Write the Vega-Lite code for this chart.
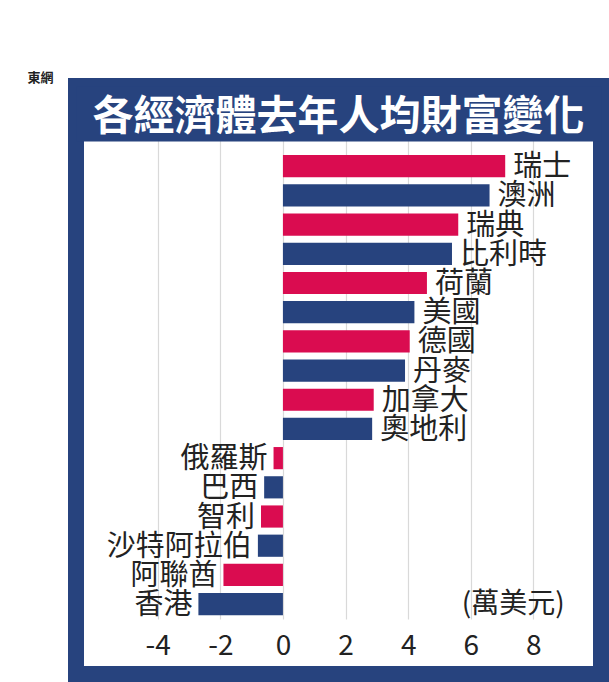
{
  "$schema": "https://vega.github.io/schema/vega-lite/v6.json",
  "width": 525,
  "height": 588,
  "autosize": "none",
  "padding": {"left": 76, "top": 86, "right": 8, "bottom": 8},
  "background": "white",
  "title": {
    "text": "各經濟體去年人均財富變化",
    "font": "Noto Sans CJK TC",
    "fontSize": 41,
    "fontWeight": "bold",
    "color": "white",
    "anchor": "middle",
    "baseline": "middle",
    "offset": -88,
    "zindex": 5
  },
  "datasets": {
    "wealth": [
      {"經濟體": "瑞士", "變化": 7.1, "組": "甲"},
      {"經濟體": "澳洲", "變化": 6.6, "組": "乙"},
      {"經濟體": "瑞典", "變化": 5.6, "組": "甲"},
      {"經濟體": "比利時", "變化": 5.4, "組": "乙"},
      {"經濟體": "荷蘭", "變化": 4.6, "組": "甲"},
      {"經濟體": "美國", "變化": 4.2, "組": "乙"},
      {"經濟體": "德國", "變化": 4.05, "組": "甲"},
      {"經濟體": "丹麥", "變化": 3.9, "組": "乙"},
      {"經濟體": "加拿大", "變化": 2.9, "組": "甲"},
      {"經濟體": "奧地利", "變化": 2.85, "組": "乙"},
      {"經濟體": "俄羅斯", "變化": -0.3, "組": "甲"},
      {"經濟體": "巴西", "變化": -0.6, "組": "乙"},
      {"經濟體": "智利", "變化": -0.7, "組": "甲"},
      {"經濟體": "沙特阿拉伯", "變化": -0.8, "組": "乙"},
      {"經濟體": "阿聯酋", "變化": -1.9, "組": "甲"},
      {"經濟體": "香港", "變化": -2.7, "組": "乙"}
    ]
  },
  "data": {"name": "wealth"},
  "encoding": {
    "y": {
      "field": "經濟體",
      "type": "nominal",
      "sort": null,
      "scale": {"range": [55, 539], "paddingInner": 0.24, "paddingOuter": 0.41, "align": 0.59},
      "axis": {
        "labels": false, "ticks": false, "domain": false, "grid": false,
        "title": "東網", "titleAngle": 0, "titleX": -36, "titleY": -9,
        "titleAlign": "center", "titleBaseline": "middle",
        "titleFont": "Noto Sans CJK TC", "titleFontSize": 13, "titleFontWeight": "bold", "titleColor": "#222"
      }
    }
  },
  "layer": [
    {
      "mark": {"type": "bar"},
      "encoding": {
        "x": {
          "field": "變化",
          "type": "quantitative",
          "scale": {"domain": [-6.61, 10.16], "nice": false, "zero": false},
          "axis": {
            "orient": "bottom",
            "offset": -42,
            "values": [-4, -2, 0, 2, 4, 6, 8],
            "labelExpr": "'' + datum.value",
            "domain": false,
            "ticks": false,
            "labelPadding": 0,
            "labelFont": "Noto Sans CJK TC",
            "labelFontSize": 28,
            "labelColor": "#222",
            "grid": true,
            "gridColor": "#d9d9d9",
            "gridWidth": 1.2,
            "title": null
          }
        },
        "color": {
          "field": "組",
          "type": "nominal",
          "scale": {"domain": ["甲", "乙"], "range": ["#DA0C50", "#27437E"]},
          "legend": null
        }
      }
    },
    {
      "transform": [{"filter": "datum['變化'] > 0"}],
      "mark": {"type": "text", "align": "left", "baseline": "middle", "dx": 8, "dy": 1, "font": "Noto Sans CJK TC", "fontSize": 29, "color": "#222"},
      "encoding": {
        "x": {
          "field": "變化",
          "type": "quantitative",
          "axis": {
            "orient": "top",
            "offset": -27.5,
            "domain": true,
            "domainColor": "#27437E",
            "domainWidth": 55,
            "domainCap": "butt",
            "labels": false,
            "ticks": false,
            "grid": false,
            "title": null,
            "zindex": 0
          }
        },
        "text": {"field": "經濟體"}
      }
    },
    {
      "transform": [{"filter": "datum['變化'] < 0"}],
      "mark": {"type": "text", "align": "right", "baseline": "middle", "dx": -6, "dy": 1, "font": "Noto Sans CJK TC", "fontSize": 29, "color": "#222"},
      "encoding": {
        "x": {"field": "變化", "type": "quantitative", "axis": null},
        "text": {"field": "經濟體"}
      }
    },
    {
      "data": {"values": [{"單位": "(萬美元)"}]},
      "mark": {"type": "text", "align": "right", "baseline": "middle", "dy": 1, "font": "Noto Sans CJK TC", "fontSize": 28, "color": "#222"},
      "encoding": {
        "x": {"datum": 9.0, "type": "quantitative", "axis": null},
        "y": {"datum": "香港"},
        "text": {"field": "單位"}
      }
    }
  ],
  "resolve": {"axis": {"x": "independent"}},
  "config": {
    "view": {"fill": "white", "stroke": "#27437E", "strokeWidth": 16}
  }
}
